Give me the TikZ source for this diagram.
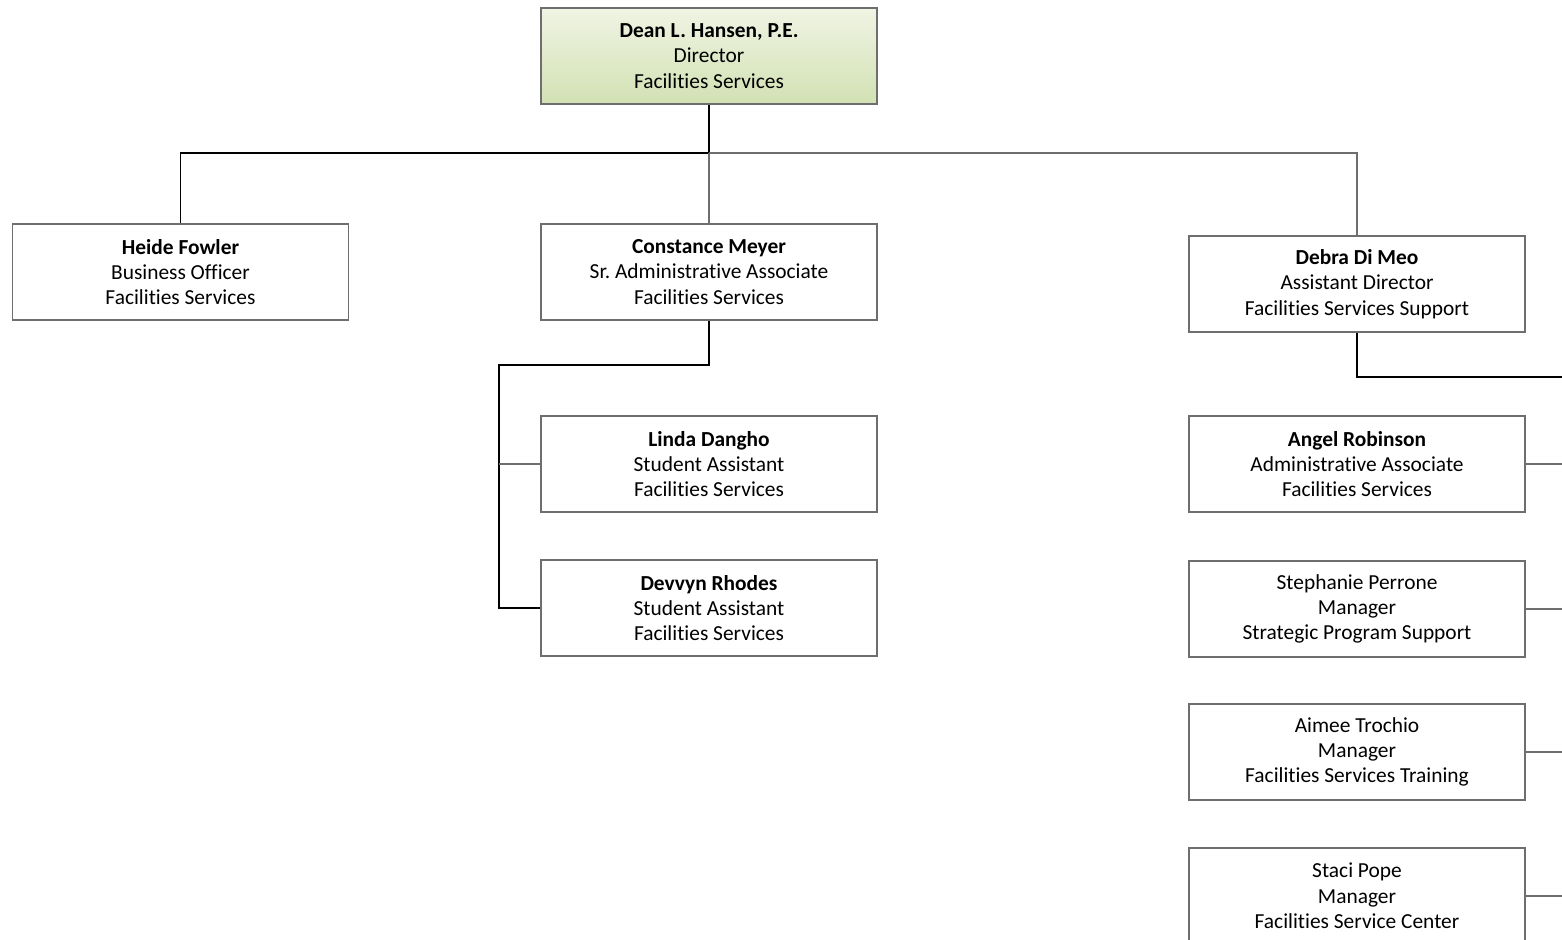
\documentclass[tikz,border=0pt]{standalone}
\usepackage{fontspec}
\setmainfont[Ligatures=NoCommon]{Carlito}
\frenchspacing
\definecolor{boxline}{HTML}{6E6E6E}
\definecolor{greentop}{HTML}{F0F4E4}
\definecolor{greenbot}{HTML}{D2E1B3}
\begin{document}
\begin{tikzpicture}[x=0.5pt,y=-0.5pt,
  person/.style={draw=boxline, line width=0.7pt, fill=white, minimum width=168pt, minimum height=48pt,
    inner sep=0pt, align=center, font=\fontsize{10.7}{12.7}\selectfont},
  topbox/.style={person, fill=none, top color=greentop, bottom color=greenbot},
  strong/.style={draw=black, line width=1pt},
  thin/.style={draw=black, line width=0.7pt},
  soft/.style={draw=boxline, line width=0.7pt}]
\useasboundingbox (0,0) rectangle (1562,940);
% nodes
\node[topbox] (dean) at (709,56) {\textbf{Dean L. Hansen, P.E.}\\Director\\Facilities Services};
\node[person] (heide) at (180.5,272) {\textbf{Heide Fowler}\\Business Officer\\Facilities Services};
\node[person] (constance) at (709,272) {\textbf{Constance Meyer}\\Sr. Administrative Associate\\Facilities Services};
\node[person] (debra) at (1357,284) {\textbf{Debra Di Meo}\\Assistant Director\\Facilities Services Support};
\node[person] (linda) at (709,464) {\textbf{Linda Dangho}\\Student Assistant\\Facilities Services};
\node[person] (devvyn) at (709,608) {\textbf{Devvyn Rhodes}\\Student Assistant\\Facilities Services};
\node[person] (angel) at (1357,464) {\textbf{Angel Robinson}\\Administrative Associate\\Facilities Services};
\node[person] (stephanie) at (1357,609) {Stephanie Perrone\\Manager\\Strategic Program Support};
\node[person] (aimee) at (1357,752) {Aimee Trochio\\Manager\\Facilities Services Training};
\node[person] (staci) at (1357,896) {Staci Pope\\Manager\\Facilities Service Center};
% coordinates
\coordinate (bus) at (709,153);
\coordinate (cbend) at (709,365);
\coordinate (cleft) at (499,365);
\coordinate (dbend) at (1357,377);
\coordinate (dend) at (1562,377);
\coordinate (angelend) at (1562,464);
\coordinate (stephend) at (1562,609);
\coordinate (aimeeend) at (1562,752);
\coordinate (staciend) at (1562,896);
% connectors
\draw[strong] (dean.south) -- (bus);
\draw[thin] (bus) -| (heide.north);
\draw[soft] (bus) -| (debra.north);
\draw[soft] (bus) -- (constance.north);
\draw[thin] (constance.south) -- (cbend) -- (cleft) |- (devvyn.west);
\draw[soft] (cleft |- linda.west) -- (linda.west);
\draw[strong] (debra.south) |- (dend);
\draw[soft] (angel.east) -- (angelend);
\draw[soft] (stephanie.east) -- (stephend);
\draw[soft] (aimee.east) -- (aimeeend);
\draw[soft] (staci.east) -- (staciend);
\end{tikzpicture}
\end{document}
